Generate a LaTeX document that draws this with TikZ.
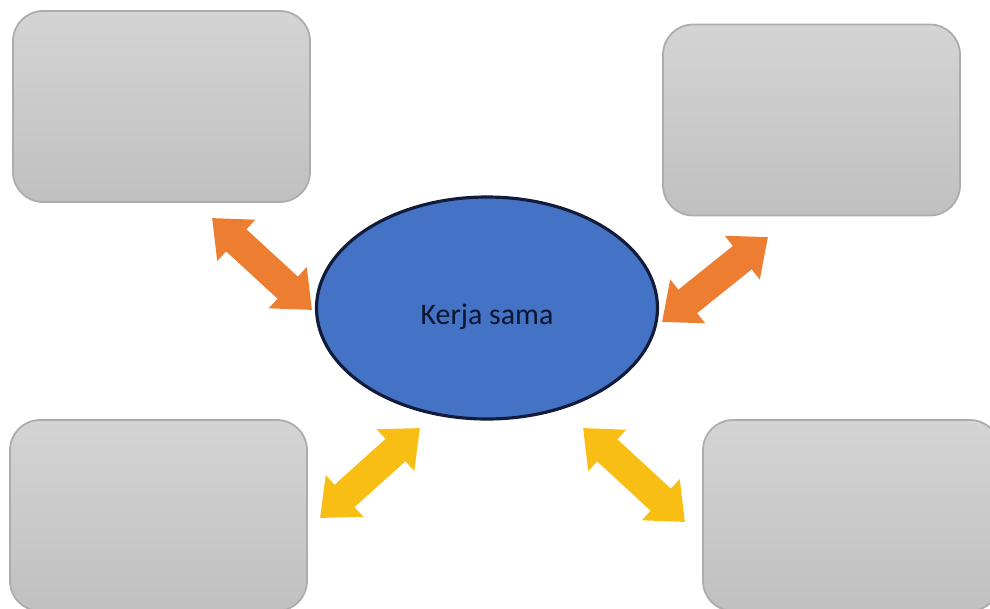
\documentclass[tikz,border=0pt]{standalone}
\usepackage{fontspec}
\setmainfont{Carlito}
\usetikzlibrary{shapes,arrows.meta}
\definecolor{cardtop}{RGB}{212,212,212}
\definecolor{cardbottom}{RGB}{192,192,192}
\definecolor{cardline}{RGB}{172,172,172}
\definecolor{hubblue}{RGB}{68,114,196}
\definecolor{hubline}{RGB}{18,28,58}
\definecolor{hubtext}{RGB}{12,22,48}
\definecolor{linkorange}{RGB}{237,125,49}
\definecolor{linkyellow}{RGB}{249,190,20}
\tikzset{
	card/.style={rectangle,rounded corners=0.3cm,draw=cardline,line width=0.5pt,top color=cardtop,bottom color=cardbottom,minimum width=2.97cm,minimum height=1.91cm},
	hub/.style={ellipse,draw=hubline,line width=0.9pt,fill=hubblue,minimum width=3.41cm,minimum height=2.22cm,inner sep=0pt},
	hubtext/.style={text=hubtext,font=\fontsize{8.5}{10}\selectfont},
	link/.style={line width=0.30cm,{Triangle[width=0.54cm,length=0.33cm]}-{Triangle[width=0.54cm,length=0.33cm]}}
}

\begin{document}
\begin{tikzpicture}
		\useasboundingbox (0,0) rectangle (9.9,6.08);
		\clip (0,0) rectangle (9.9,6.08);
		%%%boxes
		\node[card] (tl) at (1.615,5.015) {};
		\node[card] (tr) at (8.115,4.88) {};
		\node[card] (bl) at (1.585,0.925) {};
		\node[card] (br) at (8.515,0.925) {};
		
		%%%center
		\node[hub] (ks) at (4.87,3.00) {};
		\node[hubtext] (kst) at (4.87,2.91) {Kerja sama};
		
		%%%arrow ends
		\coordinate (a1) at (2.12,3.90);
		\coordinate (b1) at (3.12,2.98);
		\coordinate (a2) at (7.68,3.71);
		\coordinate (b2) at (6.62,2.86);
		\coordinate (a3) at (3.20,0.90);
		\coordinate (b3) at (4.20,1.80);
		\coordinate (a4) at (6.85,0.86);
		\coordinate (b4) at (5.83,1.80);
		
		\draw[link,linkorange] (a1) -- (b1);
		\draw[link,linkorange] (a2) -- (b2);
		\draw[link,linkyellow] (a3) -- (b3);
		\draw[link,linkyellow] (a4) -- (b4);
		
	\end{tikzpicture}
\end{document}
